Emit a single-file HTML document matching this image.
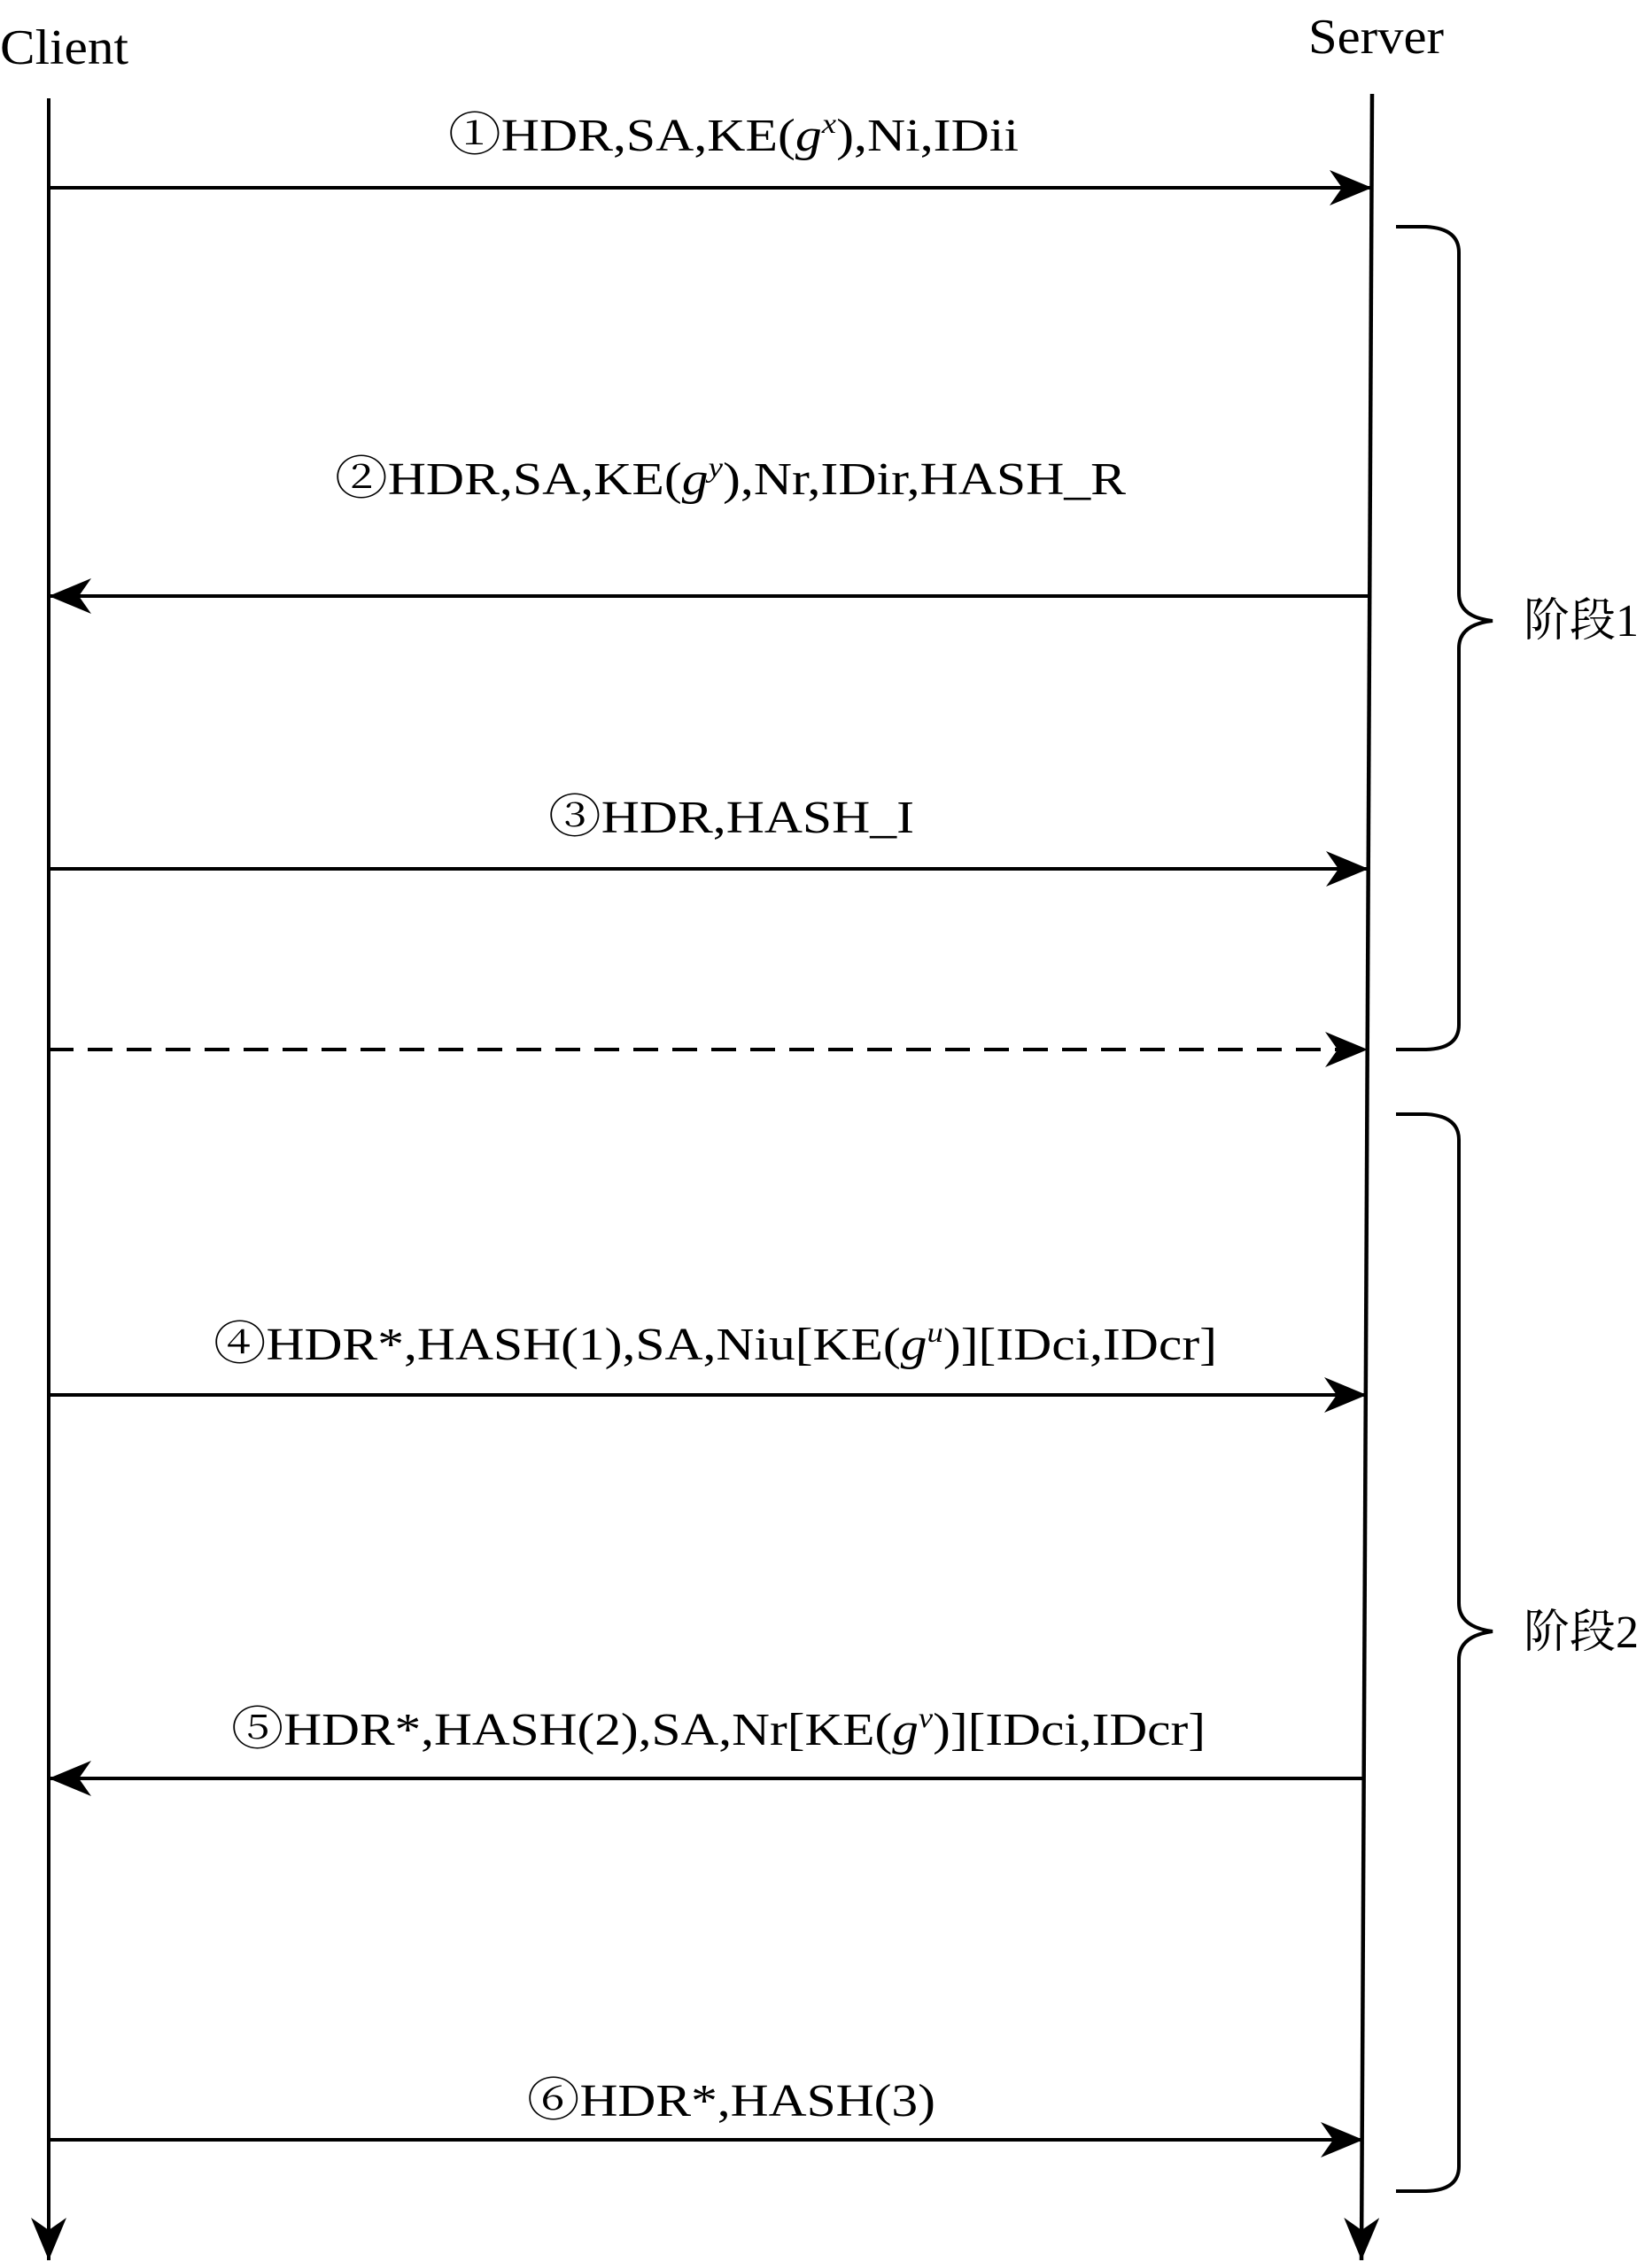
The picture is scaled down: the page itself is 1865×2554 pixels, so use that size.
<!DOCTYPE html>
<html><head><meta charset="utf-8"><style>
html,body{margin:0;padding:0;background:#fff;}
svg{display:block;}
text{font-family:"Liberation Serif","Noto Serif CJK SC",serif;fill:#000;}
</style></head><body>
<svg width="1865" height="2554" viewBox="0 0 1865 2554" xmlns="http://www.w3.org/2000/svg">
<defs>
<marker id="ah" markerWidth="50" markerHeight="40" refX="48" refY="20" orient="auto" markerUnits="userSpaceOnUse">
<path d="M0,0 L48,20 L0,40 L14,20 Z" fill="#000"/>
</marker>
</defs>
<text x="0" y="72" font-size="56" textLength="145" lengthAdjust="spacingAndGlyphs">Client</text>
<text x="1477" y="60" font-size="56" textLength="153" lengthAdjust="spacingAndGlyphs">Server</text>
<line x1="55" y1="111" x2="55" y2="2552" stroke="#000" stroke-width="4" marker-end="url(#ah)"/>
<line x1="1549" y1="106" x2="1537" y2="2552" stroke="#000" stroke-width="4.5" marker-end="url(#ah)"/>

<line x1="55" y1="212" x2="1549" y2="212" stroke="#000" stroke-width="4" marker-end="url(#ah)"/>
<text x="506" y="170" font-size="52" textLength="644" lengthAdjust="spacingAndGlyphs">①HDR,SA,KE(<tspan font-style="italic">g</tspan><tspan font-size="32" font-style="italic" dy="-20">x</tspan><tspan dy="20">),Ni,IDii</tspan></text>

<line x1="1545" y1="673" x2="55" y2="673" stroke="#000" stroke-width="4" marker-end="url(#ah)"/>
<text x="378" y="558" font-size="52" textLength="893" lengthAdjust="spacingAndGlyphs">②HDR,SA,KE(<tspan font-style="italic">g</tspan><tspan font-size="32" font-style="italic" dy="-20">y</tspan><tspan dy="20">),Nr,IDir,HASH_R</tspan></text>

<line x1="55" y1="981" x2="1545" y2="981" stroke="#000" stroke-width="4" marker-end="url(#ah)"/>
<text x="619" y="940" font-size="52" textLength="413" lengthAdjust="spacingAndGlyphs">③HDR,HASH_I</text>

<line x1="55" y1="1185" x2="1544" y2="1185" stroke="#000" stroke-width="4" stroke-dasharray="28,16" marker-end="url(#ah)"/>

<line x1="55" y1="1575" x2="1543" y2="1575" stroke="#000" stroke-width="4" marker-end="url(#ah)"/>
<text x="241" y="1535" font-size="52" textLength="1133" lengthAdjust="spacingAndGlyphs">④HDR*,HASH(1),SA,Niu[KE(<tspan font-style="italic">g</tspan><tspan font-size="32" font-style="italic" dy="-20">u</tspan><tspan dy="20">)][IDci,IDcr]</tspan></text>

<line x1="1541" y1="2008" x2="55" y2="2008" stroke="#000" stroke-width="4" marker-end="url(#ah)"/>
<text x="261" y="1970" font-size="52" textLength="1100" lengthAdjust="spacingAndGlyphs">⑤HDR*,HASH(2),SA,Nr[KE(<tspan font-style="italic">g</tspan><tspan font-size="32" font-style="italic" dy="-20">v</tspan><tspan dy="20">)][IDci,IDcr]</tspan></text>

<line x1="55" y1="2416" x2="1539" y2="2416" stroke="#000" stroke-width="4" marker-end="url(#ah)"/>
<text x="595" y="2389" font-size="52" textLength="461" lengthAdjust="spacingAndGlyphs">⑥HDR*,HASH(3)</text>

<path d="M1576,256 L1610,256 Q1647,258 1647,285 L1647,670 Q1647,697 1685,701 Q1647,705 1647,732 L1647,1157 Q1647,1184 1610,1185 L1576,1185" fill="none" stroke="#000" stroke-width="4"/>
<text x="1720" y="718" font-size="52">阶段1</text>

<path d="M1576,1258 L1610,1258 Q1647,1260 1647,1287 L1647,1810 Q1647,1837 1685,1842 Q1647,1847 1647,1874 L1647,2446 Q1647,2473 1610,2474 L1576,2474" fill="none" stroke="#000" stroke-width="4"/>
<text x="1720" y="1860" font-size="52">阶段2</text>
</svg>
</body></html>
